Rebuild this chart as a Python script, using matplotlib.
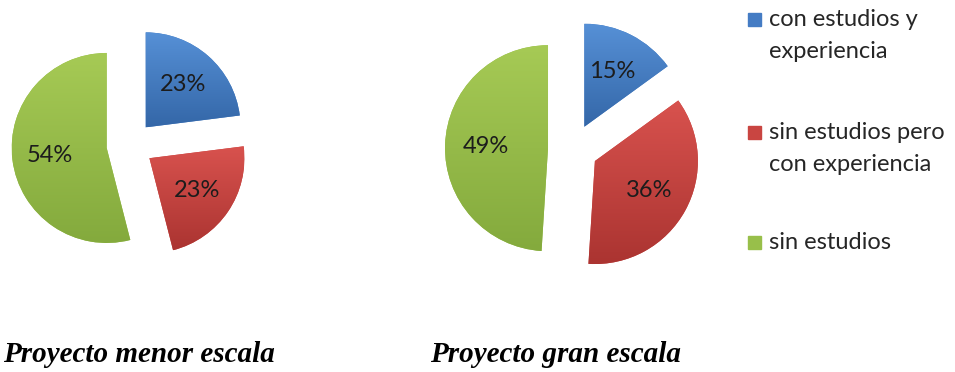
import matplotlib.pyplot as plt
import matplotlib.colors as mcolors
import numpy as np

categorias = ['con estudios y\nexperiencia', 'sin estudios pero\ncon experiencia', 'sin estudios']
menor_escala = [23, 23, 54]
gran_escala = [15, 36, 49]
titulos = ['Proyecto menor escala', 'Proyecto gran escala']

colores = ['#447cc4', '#c94541', '#98bf4a']
colores_claros = ['#5690d6', '#d8524e', '#a6ca55']
colores_oscuros = ['#3467a8', '#ab3431', '#84aa3d']

SANS = ['Lato', 'DejaVu Sans']


def sombrear(ax, wedges):
	# vertical gradient clipped to each slice
	for k, w in enumerate(wedges):
		cmap = mcolors.LinearSegmentedColormap.from_list('g', [colores_oscuros[k], colores_claros[k]])
		ext = w.get_path().get_extents(w.get_patch_transform())
		grad = np.linspace(0, 1, 128).reshape(-1, 1)
		im = ax.imshow(grad, cmap=cmap, origin='lower', aspect='auto',
					   extent=[ext.x0, ext.x1, ext.y0, ext.y1], zorder=1.5)
		im.set_clip_path(w)


def tarta(ax, valores, centro, radio, sep):
	wedges, textos, pcts = ax.pie(valores, colors=colores, startangle=90, counterclock=False,
								 center=centro, radius=radio, explode=[sep] * len(valores),
								 autopct=lambda p: '%.0f%%' % p, pctdistance=0.6,
								 wedgeprops=dict(linewidth=0.8, edgecolor='#ffffff00'))
	sombrear(ax, wedges)
	for t in pcts:
		t.set_fontsize(17)
		t.set_family(SANS)
		t.set_color('#1c1c1c')
		t.set_zorder(3)
	return wedges


fig = plt.figure(figsize=(9.55, 3.72), dpi=100)
ax = fig.add_axes([0, 0, 1, 1])

w1 = tarta(ax, menor_escala, (130, 227), 95, 23.5)
w2 = tarta(ax, gran_escala, (573, 223), 103, 25)

ax.set_xlim(0, 955)
ax.set_ylim(0, 372)
ax.set_aspect('equal')
ax.axis('off')

# legend drawn by hand so the squares sit on the first text line
filas = [353, 240, 130]
for k, (lab, y) in enumerate(zip(categorias, filas)):
	ax.add_patch(plt.Rectangle((748, y - 6.5), 13, 13, color=colores[k], zorder=3))
	ax.text(769, y + 10, lab, fontsize=17, family=SANS, color='#262626',
			va='top', ha='left', linespacing=1.62)

ax.text(3, 10, titulos[0], fontsize=21, family='Liberation Serif', weight='bold',
		style='italic', ha='left', va='baseline')
ax.text(430, 10, titulos[1], fontsize=21, family='Liberation Serif', weight='bold',
		style='italic', ha='left', va='baseline')

plt.savefig('out.png', dpi=100)
